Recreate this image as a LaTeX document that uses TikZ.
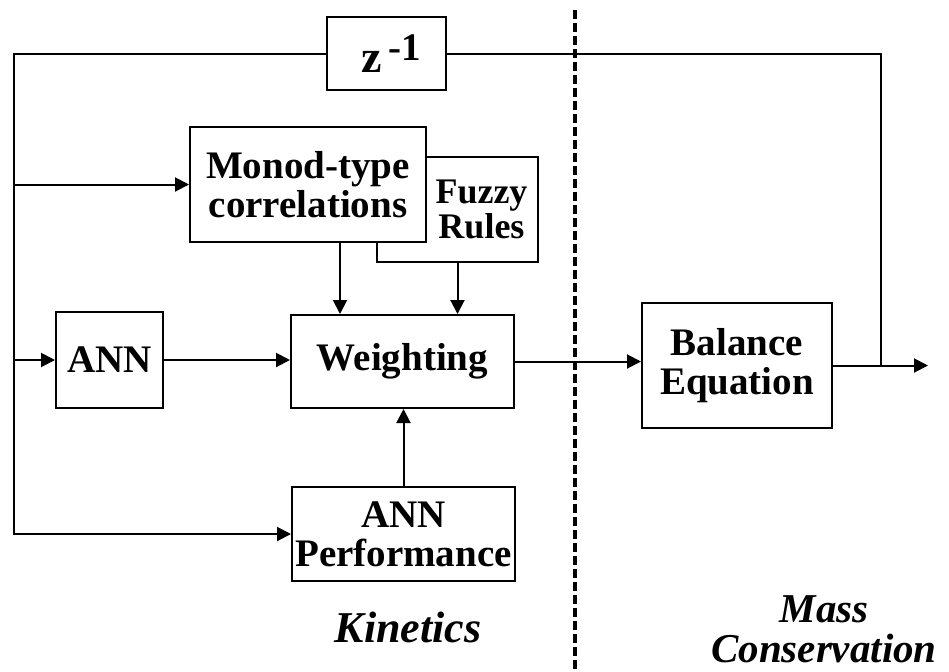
\documentclass[tikz,border=0pt]{standalone}
\usepackage{fontspec}
\setmainfont{Liberation Serif}
\usetikzlibrary{arrows.meta,calc}

\begin{document}
\begin{tikzpicture}[
    x=0.5pt, y=-0.5pt,
    blk/.style={draw, line width=1pt, fill=white, inner sep=0pt, align=center,
        font=\fontsize{19.5}{19.5}\selectfont\bfseries},
    fuzzytxt/.style={font=\fontsize{18}{17.5}\selectfont\bfseries, align=center},
    wire/.style={line width=1pt},
    flow/.style={wire, -{Triangle[length=7pt, width=7pt]}},
    divline/.style={line width=1.6pt, dash pattern=on 4.5pt off 2pt},
    region/.style={font=\fontsize{22}{20}\selectfont\bfseries\itshape, align=center, inner sep=0pt},
]

\useasboundingbox (0,0) rectangle (949,671);

% Kinetics / mass conservation divider
\draw[divline] (575,10) -- (575,671);

% Blocks
\node[blk, minimum width=59.5pt, minimum height=36.5pt] (zbox) at (386.5,53.5)
    {\hspace*{5pt}{\fontsize{23}{23}\selectfont z}\,\raisebox{6pt}{-1}};
\node[blk, minimum width=80.5pt, minimum height=52.5pt,
    label={[fuzzytxt, xshift=12pt]center:Fuzzy\\Rules}] (fuzzy) at (457.5,209.5) {};
\node[blk, minimum width=118pt, minimum height=57.5pt] (monod) at (308,184.5) {Monod-type\\correlations};
\node[blk, minimum width=53.5pt, minimum height=48pt] (ann) at (109.5,360) {ANN};
\node[blk, minimum width=111.5pt, minimum height=46.5pt] (weight) at (402.5,361.5) {Weighting};
\node[blk, minimum width=111.5pt, minimum height=47pt] (perf) at (403.5,534) {ANN\\Performance};
\node[blk, minimum width=95pt, minimum height=62.5pt] (balance) at (737,365.5) {Balance\\Equation};

% Region labels
\node[region, anchor=base] (kin) at (408,642) {Kinetics};
\node[region, font=\fontsize{20.5}{20}\selectfont\bfseries\itshape, anchor=south] (mass) at (824,663) {Mass\\Conservation};

% Helper points
\coordinate (lft) at (14,0);
\coordinate (jn) at (881,0);
\coordinate (out) at (928,0);

% Feedback bus
\draw[flow] (zbox.west) -| (lft |- perf.west) -- (perf.west);
\draw[flow] (lft |- monod.west) -- (monod.west);
\draw[flow] (lft |- ann.west) -- (ann.west);

% Into the weighting block
\draw[flow] (ann.east) -- (ann.east -| weight.west);
\draw[flow] ([xshift=16pt]monod.south) -- ([xshift=16pt]monod.south |- weight.north);
\draw[flow] (fuzzy.south) -- (fuzzy.south |- weight.north);
\draw[flow] (perf.north) -- (perf.north |- weight.south);

% Mass balance and output
\draw[flow] (weight.east) -- (weight.east -| balance.west);
\draw[flow] (balance.east) -- (balance.east -| out);
\draw[wire] (balance.east -| jn) |- (zbox.east);

\end{tikzpicture}
\end{document}
